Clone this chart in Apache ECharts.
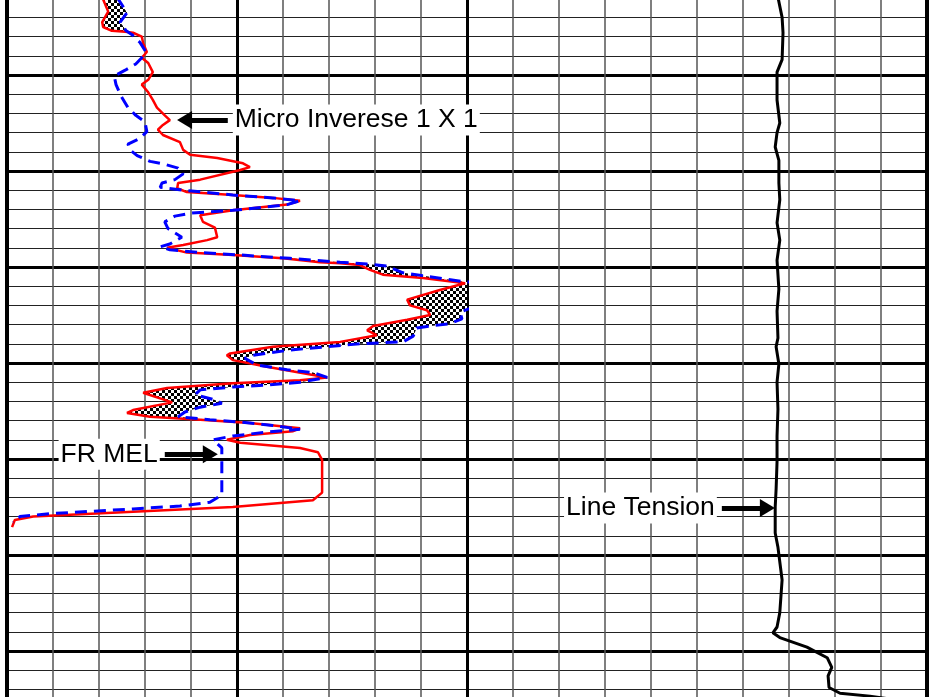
<!DOCTYPE html>
<html>
<head>
<meta charset="utf-8">
<script src="https://cdn.jsdelivr.net/npm/echarts@6/dist/echarts.min.js"></script>
<style>html,body{margin:0;padding:0;background:#fff}#c{width:936px;height:697px}</style>
</head>
<body>
<div id="c"></div>
<script>
// ---- Data (x in chart-division units: 10 per minor division; depth: 2 per minor division) ----
const microInvDepth = [1.9,3.4,4.5,5.0,5.4,5.5,5.6,6.0,6.7,7.6,8.2,8.75,9.7,10.5,11.0,11.8,12.6,13.4,14.2,14.7,15.2,15.7,16.25,17.0,17.8,18.3,18.65,19.2,19.6,19.9,20.9,21.25,21.8,22.2,22.5,22.8,23.1,23.5,24.1,24.6,25.3,25.9,26.9,27.2,27.7,28.0,28.5,28.75,29.1,29.5,29.6,29.8,30.3,30.8,31.15,31.7,32.4,33.4,34.0,34.5,35.0,35.5,36.15,36.6,37.1,37.8,38.3,39.0,39.2,39.7,40.4,41.5,41.8,42.1,42.6,43.1,44.1,44.9,45.2,45.6,45.9,46.25,46.8,47.1,47.5,48.0,48.3,48.85,49.3,50.1,53.5,54.3,55.0,55.5,56.0,56.35,57.1];
const microInvValue = [20.7,22.0,20.7,20.9,22.8,25.7,27.4,29.3,29.6,30.4,29.3,30.7,31.7,30.7,29.3,30.7,31.7,32.6,34.3,35.4,33.9,32.8,33.9,37.6,38.3,39.8,45.7,51.3,52.8,50.7,42.0,37.2,37.0,39.1,49.1,57.8,63.7,60.9,49.1,42.0,42.6,45.2,45.7,43.5,38.3,34.8,39.1,49.1,60.0,68.0,72.4,76.7,78.9,81.7,90.4,99.6,94.1,87.0,87.6,91.3,92.0,87.0,79.6,78.3,80.4,72.4,57.8,48.5,47.8,49.1,56.5,69.6,63.7,49.1,34.8,29.6,35.9,27.4,26.1,31.1,42.0,52.8,63.7,62.2,52.8,47.8,50.7,63.7,67.6,68.5,68.5,66.5,49.1,27.4,5.7,1.7,1.1];

const frMelDepth = [1.9,3.5,4.5,4.9,5.4,5.8,6.6,7.6,8.2,8.85,9.5,10.1,11.0,12.2,13.4,14.2,14.9,15.9,16.6,17.2,17.8,18.4,19.0,19.3,19.7,20.3,20.9,21.25,21.7,22.0,22.5,22.8,23.1,23.5,24.1,24.4,24.7,25.3,26.0,26.9,27.6,27.9,28.2,28.5,28.75,29.1,29.5,29.6,29.7,29.9,30.6,30.9,31.25,31.55,31.6,31.7,32.1,32.9,33.4,34.3,34.7,35.4,35.9,36.15,36.35,37.2,37.8,37.9,38.0,38.3,38.65,39.2,39.5,39.8,40.2,40.7,41.0,41.5,42.0,42.3,42.5,42.8,43.3,43.85,44.2,44.6,45.1,45.6,45.9,46.15,46.5,46.9,47.2,47.6,48.0,48.85,53.75,54.5,54.9,55.2,55.7,56.0,56.6];
const frMelValue = [23.9,26.1,24.6,25.2,25.9,27.2,28.9,30.2,29.3,28.0,25.7,23.3,23.7,24.8,26.3,28.0,30.0,30.4,28.9,26.3,26.7,28.3,31.1,34.3,37.2,38.3,36.5,33.7,33.3,38.3,49.1,57.8,63.7,60.9,49.1,39.8,36.5,34.3,35.0,38.0,35.4,33.3,35.4,42.0,50.7,61.5,72.4,75.7,78.3,82.6,86.1,90.4,95.2,99.6,103.9,105.7,103.5,102.4,101.3,100.7,98.5,98.9,96.3,92.0,89.1,88.3,86.1,81.1,76.7,69.6,61.5,53.5,51.7,52.8,54.3,60.9,66.5,69.6,63.7,56.5,49.1,42.0,40.9,45.2,46.7,42.0,38.7,37.2,44.1,50.7,57.8,63.7,56.5,49.1,44.8,46.7,46.7,44.1,37.6,27.4,9.3,2.8,1.3];

const tensionDepth = [1.9,4.0,5.6,8.4,9.7,12.6,15.0,16.0,17.5,18.9,21.25,23.0,25.4,27.2,29.3,32.3,34.6,37.4,38.3,40.1,42.0,44.8,47.6,50.3,53.1,55.0,57.7,59.2,62.6,66.0,67.5,68.1,68.6,69.6,70.7,71.7,72.6,73.8,74.4,74.7,75.0];
const tensionValue = [167.6,168.5,168.7,168.5,167.4,167.4,168.0,167.4,167.0,167.8,167.8,168.0,167.4,168.0,167.4,167.8,167.4,167.6,167.2,167.8,167.4,167.6,167.4,167.4,167.2,167.0,167.0,167.6,168.5,168.0,167.4,166.5,168.0,173.9,178.3,179.3,178.5,178.7,181.1,187.6,191.9];

// annotation anchors: [startX, endX, depth]
const microArrow = [48.0, 38.6, 14.69];
const melArrow = [34.3, 44.2, 49.5];
const tensionArrow = [155.4, 165.3, 55.1];

// ---- helpers ----
function interp(D, V, d) {
  if (d <= D[0]) return V[0];
  for (let i = 0; i < D.length - 1; i++) {
    if (d >= D[i] && d <= D[i + 1]) {
      const t = (d - D[i]) / (D[i + 1] - D[i]);
      return V[i] + t * (V[i + 1] - V[i]);
    }
  }
  return V[V.length - 1];
}
const toPairs = (D, V) => D.map((d, i) => [V[i], d]);

// polygon between curves where FR MEL lies right of Micro Inverse
const lo = Math.max(microInvDepth[0], frMelDepth[0]);
const hi = Math.min(microInvDepth[microInvDepth.length - 1], frMelDepth[frMelDepth.length - 1]);
const ds = [...new Set(microInvDepth.concat(frMelDepth))].filter(d => d >= lo && d <= hi).sort((a, b) => a - b);
const dAll = [];
for (let i = 0; i < ds.length; i++) {
  dAll.push(ds[i]);
  if (i < ds.length - 1) {
    const f0 = interp(frMelDepth, frMelValue, ds[i]) - interp(microInvDepth, microInvValue, ds[i]);
    const f1 = interp(frMelDepth, frMelValue, ds[i + 1]) - interp(microInvDepth, microInvValue, ds[i + 1]);
    if (f0 * f1 < 0) dAll.push(ds[i] + (ds[i + 1] - ds[i]) * f0 / (f0 - f1));
  }
}
const leftEdge = dAll.map(d => [interp(microInvDepth, microInvValue, d), d]);
const rightEdge = dAll.map(d => [Math.max(interp(microInvDepth, microInvValue, d), interp(frMelDepth, frMelValue, d)), d]).reverse();
const fillPoly = leftEdge.concat(rightEdge);

const checker = (() => {
  const c = document.createElement('canvas'); c.width = 6; c.height = 6;
  const g = c.getContext('2d');
  g.fillStyle = '#fff'; g.fillRect(0, 0, 6, 6);
  g.fillStyle = '#000'; g.fillRect(0, 0, 3, 3); g.fillRect(3, 3, 3, 3);
  return c;
})();

const FONT = "'Liberation Sans', Arial, sans-serif";
function arrowMark(a, text) {
  return {
    silent: true,
    symbol: ['none', 'triangle'],
    symbolSize: [18, 15],
    lineStyle: { color: '#000', width: 5, type: 'solid' },
    label: { show: true, position: 'start', formatter: text, fontSize: 26.5, fontFamily: FONT, color: '#000', backgroundColor: '#fff', padding: [2, 2], distance: 5 },
    emphasis: { disabled: true },
    data: [[{ coord: [a[0], a[2]] }, { coord: [a[1], a[2]] }]]
  };
}

function xAx(idx, min, max, interval, minorN) {
  return {
    gridIndex: idx, type: 'value', min, max, interval,
    axisLine: { show: false }, axisTick: { show: false }, axisLabel: { show: false },
    splitLine: { show: true, showMinLine: true, showMaxLine: true, lineStyle: { color: '#000', width: 3 } },
    minorTick: { show: false, splitNumber: minorN },
    minorSplitLine: { show: true, lineStyle: { color: '#555', width: 1.5 } }
  };
}
function yAx(idx, pos) {
  return {
    gridIndex: idx, type: 'value', inverse: true, min: 0, max: 80, interval: 10, position: pos,
    axisLine: { show: true, onZero: false, lineStyle: { color: '#000', width: 4 } },
    axisTick: { show: false }, axisLabel: { show: false },
    splitLine: { show: true, lineStyle: { color: '#000', width: 3 } },
    minorTick: { show: false, splitNumber: 5 },
    minorSplitLine: { show: true, lineStyle: { color: '#222', width: 1 } }
  };
}

const chart = echarts.init(document.getElementById('c'), null, { renderer: 'canvas' });
chart.setOption({
  animation: false,
  backgroundColor: '#fff',
  grid: [
    { left: 7, width: 460, top: -21, height: 768, containLabel: false, outerBoundsMode: 'none' },
    { left: 467, width: 460, top: -21, height: 768, containLabel: false, outerBoundsMode: 'none' }
  ],
  xAxis: [xAx(0, 0, 100, 50, 5), xAx(1, 100, 200, 100, 10)],
  yAxis: [yAx(0, 'left'), yAx(1, 'right')],
  series: [
    {
      type: 'custom', xAxisIndex: 0, yAxisIndex: 0, silent: true, clip: true, z: 2,
      data: [[0, 0]],
      renderItem: function (params, api) {
        return { type: 'polygon', shape: { points: fillPoly.map(p => api.coord(p)) }, style: { fill: { image: checker, repeat: 'repeat' }, stroke: null } };
      }
    },
    {
      name: 'Micro Inverese 1 X 1', type: 'line', xAxisIndex: 0, yAxisIndex: 0, z: 3,
      data: toPairs(microInvDepth, microInvValue), showSymbol: false, symbol: 'none',
      lineStyle: { color: '#ff0000', width: 2.5 },
      markLine: arrowMark(microArrow, 'Micro Inverese 1 X 1')
    },
    {
      name: 'FR MEL', type: 'line', xAxisIndex: 0, yAxisIndex: 0, z: 4,
      data: toPairs(frMelDepth, frMelValue), showSymbol: false, symbol: 'none',
      lineStyle: { color: '#0000ff', width: 3, type: [12, 7] },
      markLine: arrowMark(melArrow, 'FR MEL')
    },
    {
      name: 'Line Tension', type: 'line', xAxisIndex: 1, yAxisIndex: 1, z: 3,
      data: toPairs(tensionDepth, tensionValue), showSymbol: false, symbol: 'none',
      lineStyle: { color: '#000', width: 3 },
      markLine: arrowMark(tensionArrow, 'Line Tension')
    }
  ]
});
</script>
</body>
</html>
